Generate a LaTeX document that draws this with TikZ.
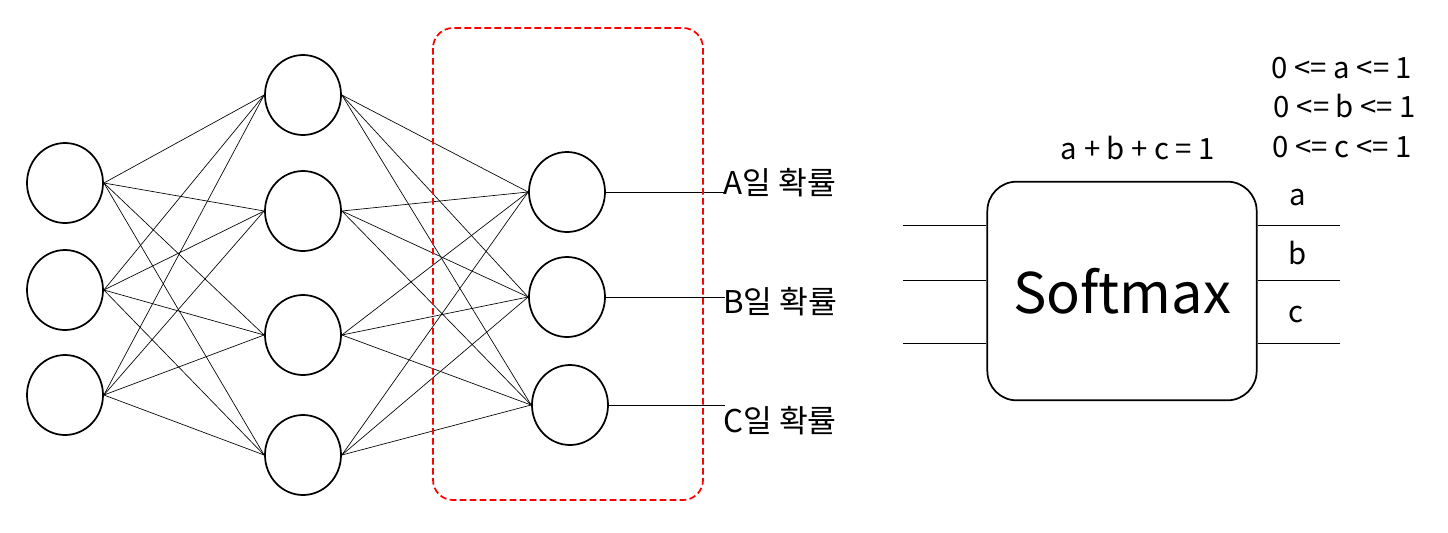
\documentclass[tikz,border=0pt]{standalone}
\usepackage{fontspec}
\usetikzlibrary{shapes.geometric}
\setmainfont{Noto Sans CJK KR}
\begin{document}
\begin{tikzpicture}[x=0.75pt,y=-0.75pt,
  neuron/.style={draw,line width=1.3pt,ellipse,minimum width=57pt,minimum height=60pt,inner sep=0pt},
  edge/.style={line width=0.5pt},
  lab/.style={font=\fontsize{23.5}{26}\selectfont,anchor=west,inner sep=0pt},
  small/.style={font=\fontsize{22}{24}\selectfont,inner sep=0pt}]
\useasboundingbox (0,0) rectangle (1448,532);
\node[neuron] (i1) at (65,183) {};
\node[neuron] (i2) at (65,290) {};
\node[neuron] (i3) at (65,395) {};
\node[neuron] (h1) at (303,95) {};
\node[neuron] (h2) at (303,211) {};
\node[neuron] (h3) at (303,335) {};
\node[neuron] (h4) at (303,455) {};
\node[neuron] (o1) at (567,192) {};
\node[neuron] (o2) at (567,297) {};
\node[neuron] (o3) at (570,405) {};
\foreach \a in {i1,i2,i3}{\foreach \b in {h1,h2,h3,h4}{\draw[edge] (\a.east) -- (\b.west);}}
\foreach \a in {h1,h2,h3,h4}{\foreach \b in {o1,o2,o3}{\draw[edge] (\a.east) -- (\b.west);}}
\coordinate (e1) at (725,192);
\coordinate (e2) at (725,297);
\coordinate (e3) at (725,405);
\draw[edge] (o1.east) -- (e1);
\draw[edge] (o2.east) -- (e2);
\draw[edge] (o3.east) -- (e3);
\node[lab] (l1) at (723,183) {A일 확률};
\node[lab] (l2) at (723,302) {B일 확률};
\node[lab] (l3) at (723,421) {C일 확률};
\draw[red,line width=1.3pt,dash pattern=on 5pt off 2.5pt,rounded corners=15pt] (433,28) rectangle (703,500);
\node[draw,line width=1.3pt,rounded corners=22pt,minimum width=202pt,minimum height=164pt,inner sep=0pt,font=\fontsize{42}{46}\selectfont] (sm) at (1122,291) {Softmax};
\foreach \y/\n in {225/1,280/2,343/3}{
  \coordinate (in\n) at (903,\y);
  \coordinate (out\n) at (1340,\y);
  \draw[edge] (in\n) -- (sm.west |- in\n);
  \draw[edge] (sm.east |- out\n) -- (out\n);
}
\node[small] (la) at (1298,198) {a};
\node[small] (lb) at (1298,253) {b};
\node[small] (lc) at (1296,315) {c};
\node[small] (sum) at (1138,148) {a + b + c = 1};
\node[small] (ca) at (1342,68) {0 <= a <= 1};
\node[small] (cb) at (1345,106) {0 <= b <= 1};
\node[small] (cc) at (1342,147) {0 <= c <= 1};
\end{tikzpicture}
\end{document}
